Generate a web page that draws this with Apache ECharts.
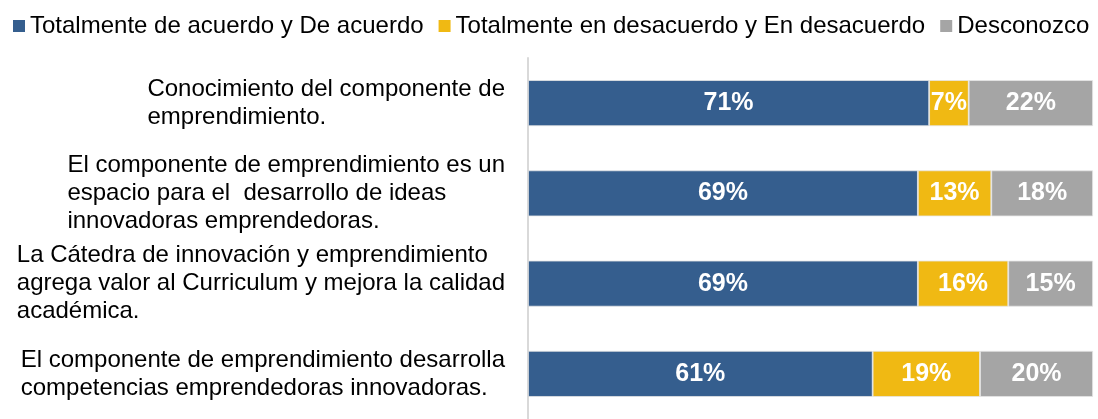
<!DOCTYPE html>
<html><head><meta charset="utf-8">
<script src="https://cdn.jsdelivr.net/npm/echarts@6/dist/echarts.min.js"></script>
<style>html,body{margin:0;padding:0;background:#fff;}#c{width:1098px;height:419px;}</style>
</head><body><div id="c"></div>
<script>
const categories = [
  "Conocimiento del componente de\nemprendimiento.",
  "El componente de emprendimiento es un\nespacio para el  desarrollo de ideas\ninnovadoras emprendedoras.",
  "La Cátedra de innovación y emprendimiento\nagrega valor al Curriculum y mejora la calidad\nacadémica.",
  "El componente de emprendimiento desarrolla\ncompetencias emprendedoras innovadoras."
];
const seriesNames = ["Totalmente de acuerdo y De acuerdo", "Totalmente en desacuerdo y En desacuerdo", "Desconozco"];
const acuerdo = [71, 69, 69, 61];
const desacuerdo = [7, 13, 16, 19];
const desconozco = [22, 18, 15, 20];
const colors = ["#355E8E", "#F0B913", "#A5A5A5"];
const values = [acuerdo, desacuerdo, desconozco];

const chart = echarts.init(document.getElementById('c'), null, {renderer: 'canvas'});
const font = "'Liberation Sans', Arial, sans-serif";
chart.setOption({
  animation: false,
  legend: {
    top: 14, left: 13, width: 1085, padding: 0, itemGap: 15, itemWidth: 12, itemHeight: 12,
    icon: 'rect',
    itemStyle: {borderWidth: 0},
    textStyle: {fontFamily: font, fontSize: 24, color: '#000'},
    data: seriesNames
  },
  grid: {left: 528, right: 5, top: 58, height: 368, containLabel: false},
  xAxis: {type: 'value', min: 0, max: 100, show: false},
  yAxis: {
    type: 'category', inverse: true, data: categories,
    axisLine: {show: true, lineStyle: {color: '#D9D9D9', width: 2}},
    axisTick: {show: false},
    axisLabel: {
      margin: 23, align: 'right',
      formatter: v => v.split('\n').map(l => '{a|' + l + '}').join('\n'),
      rich: {a: {align: 'left', fontFamily: font, fontSize: 24, color: '#000', lineHeight: 28}}
    }
  },
  series: values.map((d, i) => ({
    name: seriesNames[i], type: 'bar', stack: 'total', barWidth: 46,
    itemStyle: {color: colors[i], borderColor: '#E6E6E6', borderWidth: 0.8},
    label: {show: true, position: 'inside', formatter: '{c}%', color: '#fff', fontFamily: font, fontWeight: 'bold', fontSize: 25},
    data: d
  }))
});
</script></body></html>
